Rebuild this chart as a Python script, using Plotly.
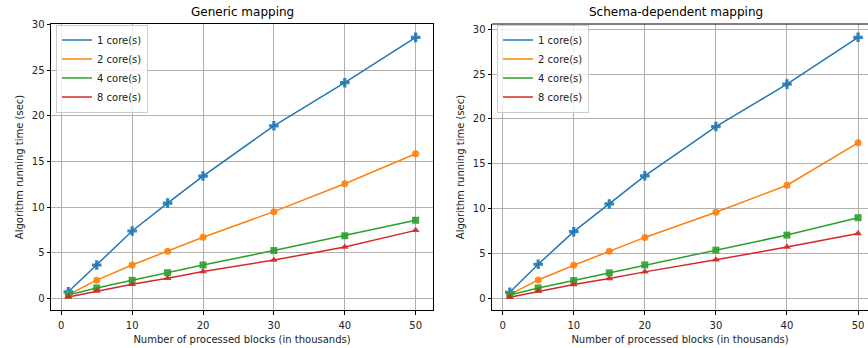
import plotly.graph_objects as go

blocks = [1, 5, 10, 15, 20, 30, 40, 50]
series_names = ["1 core(s)", "2 core(s)", "4 core(s)", "8 core(s)"]

generic_1 = [0.72, 3.66, 7.38, 10.44, 13.4, 18.9, 23.62, 28.58]
generic_2 = [0.42, 2.0, 3.66, 5.17, 6.7, 9.5, 12.56, 15.84]
generic_4 = [0.38, 1.14, 1.98, 2.82, 3.66, 5.24, 6.86, 8.56]
generic_8 = [0.15, 0.8, 1.54, 2.2, 2.94, 4.2, 5.62, 7.45]

schema_1 = [0.68, 3.8, 7.43, 10.52, 13.66, 19.15, 23.88, 29.1]
schema_2 = [0.42, 2.05, 3.69, 5.26, 6.79, 9.59, 12.61, 17.33]
schema_4 = [0.38, 1.16, 1.98, 2.84, 3.73, 5.37, 7.05, 8.99]
schema_8 = [0.13, 0.78, 1.53, 2.2, 2.95, 4.29, 5.71, 7.22]

x_ticks = [0, 10, 20, 30, 40, 50]
y_ticks = [0, 5, 10, 15, 20, 25, 30]

colors = ["#1f77b4", "#ff7f0e", "#2ca02c", "#d62728"]
symbols = ["cross", "circle", "square", "triangle-up"]
msizes = [8, 7, 7, 7]

FONT = "DejaVu Sans"

fig = go.Figure()

panels = [
    ([generic_1, generic_2, generic_4, generic_8], "x", "y", "legend"),
    ([schema_1, schema_2, schema_4, schema_8], "x2", "y2", "legend2"),
]

for data, xa, ya, lg in panels:
    for i, (name, vals) in enumerate(zip(series_names, data)):
        fig.add_trace(go.Scatter(
            x=blocks, y=vals, mode="lines", name=name,
            line=dict(color=colors[i], width=1.5),
            xaxis=xa, yaxis=ya, legend=lg, showlegend=True,
        ))
    for i, (name, vals) in enumerate(zip(series_names, data)):
        fig.add_trace(go.Scatter(
            x=blocks, y=vals, mode="markers", name=name,
            marker=dict(color=colors[i], symbol=symbols[i], size=msizes[i],
                        opacity=0.9, line=dict(width=0)),
            xaxis=xa, yaxis=ya, showlegend=False, cliponaxis=False,
        ))

axis_common = dict(
    showgrid=True, gridcolor="#b0b0b0", gridwidth=1,
    zeroline=False, showline=True, linecolor="black", linewidth=1,
    ticks="outside", ticklen=3.5, tickwidth=1, tickcolor="black",
    tickfont=dict(family=FONT, size=10, color="#222"),
    automargin=False,
)

L, R, T, B = 51, 0, 24, 38
W, H = 868, 348
pw = W - L - R

leg_common = dict(
    xanchor="left", yanchor="top", itemwidth=30,
    bgcolor="rgba(255,255,255,0.8)", bordercolor="#cccccc", borderwidth=1,
    font=dict(family=FONT, size=10, color="#222"), tracegroupgap=0,
)

xtitle = "Number of processed blocks (in thousands)"
ytitle = "Algorithm running time (sec)"

fig.update_layout(
    width=W, height=H,
    margin=dict(l=L, r=R, t=T, b=B),
    paper_bgcolor="white", plot_bgcolor="white",
    font=dict(family=FONT, size=10, color="#222"),
    xaxis=dict(domain=[0, (433 - L) / pw], range=[-1.45, 52.45], tickvals=x_ticks,
               mirror=True, anchor="y", ticklabelstandoff=2,
               title=dict(text=xtitle, font=dict(size=10), standoff=6),
               **axis_common),
    yaxis=dict(domain=[0, 1], range=[-1.27, 30.05], tickvals=y_ticks, mirror=True, anchor="x",
               title=dict(text=ytitle, font=dict(size=10), standoff=6),
               **axis_common),
    xaxis2=dict(domain=[(492 - L) / pw, 1], range=[-1.5, 51.4], tickvals=x_ticks,
                mirror=False, anchor="y2", ticklabelstandoff=2,
                title=dict(text=xtitle, font=dict(size=10), standoff=6),
                **axis_common),
    yaxis2=dict(domain=[0, 1], range=[-1.3, 30.58], tickvals=y_ticks, mirror=False, anchor="x2",
                title=dict(text=ytitle, font=dict(size=10), standoff=6),
                **axis_common),
    legend=dict(x=(56 - L) / pw, y=0.998, **leg_common),
    legend2=dict(x=(497 - L) / pw, y=0.998, **leg_common),
    annotations=[
        dict(text="Generic mapping", x=(0 + (433 - L) / pw) / 2, y=1, xref="paper", yref="paper",
             xanchor="center", yanchor="bottom", yshift=3, showarrow=False,
             font=dict(family=FONT, size=12, color="black")),
        dict(text="Schema-dependent mapping", x=((492 - L) / pw + (868 - L) / pw) / 2 - 0.005, y=1,
             xref="paper", yref="paper",
             xanchor="center", yanchor="bottom", yshift=3, showarrow=False,
             font=dict(family=FONT, size=12, color="black")),
    ],
)

# top spine for the right panel
fig.add_shape(type="line", xref="x2 domain", yref="y2 domain", x0=0, x1=1, y0=1, y1=1,
              line=dict(color="black", width=1))

fig.write_html("out.html", config={"displayModeBar": False},
               post_script="document.body.style.margin='0';document.body.style.overflow='hidden';")
